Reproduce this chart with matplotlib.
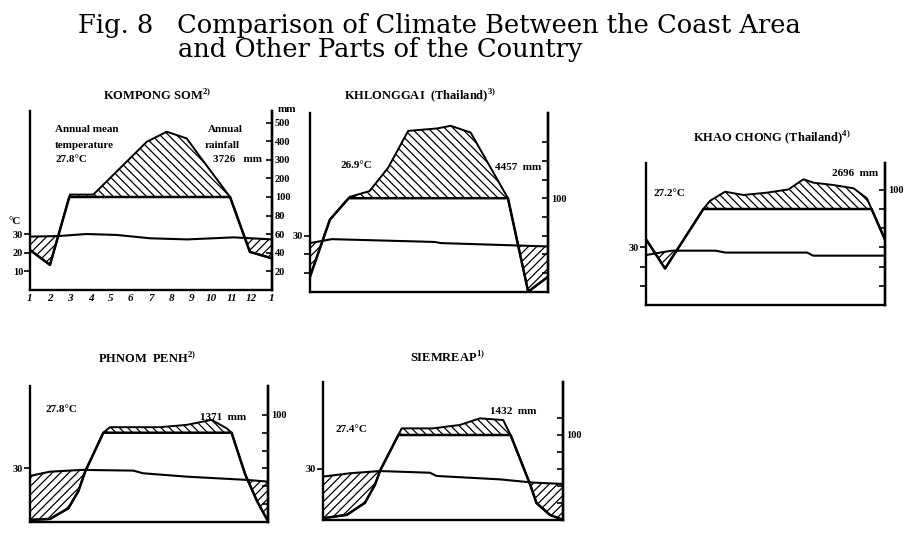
import numpy as np
import matplotlib
matplotlib.use("Agg")
import matplotlib.pyplot as plt

plt.rcParams['font.family'] = ['Liberation Serif', 'DejaVu Serif']
plt.rcParams['mathtext.fontset'] = 'custom'
plt.rcParams['mathtext.rm'] = 'Liberation Serif'
plt.rcParams['mathtext.bf'] = 'Liberation Serif:bold'
plt.rcParams['hatch.linewidth'] = 0.9

W, H = 905, 533

# ---- values: x = month position (0 = start of Jan, 12 = end of Dec)
month_labels = ['1', '2', '3', '4', '5', '6', '7', '8', '9', '10', '11', '12', '1']

# Kompong Som
ks_temp_x = [0, 1.4, 2.8, 4.3, 5.95, 7.8, 10.1, 12.0]
ks_temp = [28.7, 29.0, 30.1, 29.6, 27.8, 27.2, 28.3, 27.2]
ks_prec_x = [0, 0.99, 1.98, 3.14, 5.79, 6.78, 7.77, 8.43, 9.92, 10.9, 12.0]
ks_prec = [43, 27, 113, 113, 397, 451, 415, 317, 100, 41, 34]

# Khlonggai
kl_temp_x = [0, 1.1, 6.3, 6.6, 12.0]
kl_temp = [26.0, 28.1, 26.6, 26.0, 24.2]
kl_prec_x = [0, 1.0, 2.0, 3.0, 3.94, 4.95, 6.4, 7.1, 8.1, 9.98, 11.0, 12.0]
kl_prec = [16, 77, 107, 138, 263, 460, 473, 487, 451, 100, 0, 16]

# Khao Chong
kc_temp_x = [0, 1.3, 3.5, 4.0, 8.1, 8.4, 12.0]
kc_temp = [26.0, 28.3, 28.3, 27.3, 27.3, 25.7, 25.7]
kc_prec_x = [0, 0.97, 2.89, 3.23, 3.98, 4.9, 6.07, 7.16, 7.91, 8.41, 9.41, 10.42, 11.09, 12.0]
kc_prec = [69, 38, 100, 143, 190, 173, 185, 202, 255, 237, 225, 208, 156, 68]

# Phnom Penh
pp_temp_x = [0, 1.0, 2.6, 5.2, 5.7, 7.9, 10.9, 12.0]
pp_temp = [25.7, 28.1, 29.1, 28.7, 27.2, 25.3, 23.5, 22.5]
pp_prec_x = [0, 1.0, 1.93, 2.43, 2.77, 3.69, 4.03, 6.54, 7.89, 9.14, 9.9, 10.15, 10.82, 11.41, 12.0]
pp_prec = [2, 3, 15, 34, 56, 100, 131, 131, 144, 172, 125, 100, 54, 24, 0]

# Siemreap
sr_temp_x = [0, 1.36, 2.86, 5.35, 5.68, 8.84, 10.5, 12.0]
sr_temp = [25.5, 27.5, 28.8, 27.8, 25.9, 23.9, 22.0, 21.2]
sr_prec_x = [0, 1.2, 2.1, 2.6, 2.86, 3.94, 5.5, 6.84, 7.84, 9.0, 9.37, 10.33, 10.66, 11.33, 12.0]
sr_prec = [2, 6, 20, 41, 58, 139, 139, 159, 198, 188, 100, 43, 20, 6, 0]


def mm_to_units(p):
    # Walter-Lieth scale: 20 mm = 10 C below 100 mm, 100 mm = 10 C above
    p = np.asarray(p, dtype=float)
    return np.where(p <= 100, p / 2.0, 50 + (p - 100) / 10.0)


def fx(x):
    return x / W


def fy(y):
    return 1 - y / H


fig = plt.figure(figsize=(W / 100, H / 100), dpi=100)
fig.patch.set_facecolor('white')


def climate_panel(box, temp_x, temp, prec_x, prec, rticks, rlabels, lticks, llabels):
    xl, xr, yb, ppu, top = box
    ax = fig.add_axes([fx(xl), fy(yb), (xr - xl) / W, top * ppu / H])
    ax.set_xlim(0, 12)
    ax.set_ylim(0, top)
    ax.patch.set_alpha(0)

    xf = np.linspace(0, 12, 2401)
    pu = np.interp(xf, prec_x, mm_to_units(prec))
    tu = np.interp(xf, temp_x, temp)

    # humid season above 100 mm
    ax.fill_between(xf, 50, pu, where=pu > 50, interpolate=True,
                    facecolor='none', edgecolor='black', hatch='\\\\\\\\', lw=0)
    # dry season (rain curve below temperature)
    ax.fill_between(xf, pu, tu, where=pu < tu, interpolate=True,
                    facecolor='none', edgecolor='black', hatch='////', lw=0)

    ax.plot(prec_x, mm_to_units(prec), color='black', lw=1.4)
    ax.plot(xf, np.minimum(pu, 50), color='black', lw=1.8)
    ax.plot(temp_x, temp, color='black', lw=1.5)

    ax.spines['top'].set_visible(False)
    for s in ['left', 'right', 'bottom']:
        ax.spines[s].set_linewidth(1.7)
    ax.set_xticks([])
    ax.yaxis.set_ticks_position('left')
    ax.set_yticks(lticks, llabels)
    ax.tick_params(axis='y', direction='out', length=4, width=1.2, pad=1,
                   labelsize=7.5)
    for t in ax.get_yticklabels():
        t.set_fontweight('bold')

    sec = ax.secondary_yaxis('right')
    sec.set_yticks(rticks, rlabels)
    sec.tick_params(direction='in', length=4, width=1.2, pad=2, labelsize=7.5)
    sec.spines['right'].set_linewidth(1.7)
    for t in sec.get_yticklabels():
        t.set_fontweight('bold')
    return ax


# Kompong Som
ax1 = climate_panel((30, 272, 290, 1.86, 96.5), ks_temp_x, ks_temp, ks_prec_x, ks_prec,
                    [10, 20, 30, 40, 50, 60, 70, 80, 90],
                    ['20', '40', '60', '80', '100', '200', '300', '400', '500'],
                    [10, 20, 30], ['10', '20', '30'])
ax1.set_xticks(np.arange(13), month_labels)
ax1.tick_params(axis='x', length=0, pad=3, labelsize=8)
for t in ax1.get_xticklabels():
    t.set_fontstyle('italic')
    t.set_fontweight('bold')

# Khlonggai
climate_panel((310, 548, 291.7, 1.87, 95.5), kl_temp_x, kl_temp, kl_prec_x, kl_prec,
              [10, 20, 30, 40, 50, 60, 70, 80],
              ['', '', '', '', '100', '', '', ''],
              [10, 20, 30], ['', '', '30'])

# Khao Chong
climate_panel((645.7, 885, 305, 1.92, 74), kc_temp_x, kc_temp, kc_prec_x, kc_prec,
              [10, 20, 30, 40, 50, 60],
              ['', '', '', '', '', '100'],
              [10, 20, 30], ['', '', '30'])

# Phnom Penh
climate_panel((30, 268.3, 521.7, 1.78, 76), pp_temp_x, pp_temp, pp_prec_x, pp_prec,
              [10, 20, 30, 40, 50, 60],
              ['', '', '', '', '', '100'],
              [30], ['30'])

# Siemreap
climate_panel((322.7, 563.3, 520, 1.70, 81), sr_temp_x, sr_temp, sr_prec_x, sr_prec,
              [10, 20, 30, 40, 50, 60],
              ['', '', '', '', '100', ''],
              [30], ['30'])

# ---- texts
small = dict(fontsize=8, fontweight='bold', va='center')
ttl = dict(fontsize=9, fontweight='bold', va='center', ha='center')

fig.text(fx(78), fy(33), 'Fig. 8', family='DejaVu Serif', fontsize=18.5, va='baseline')
fig.text(fx(177), fy(33), 'Comparison of Climate Between the Coast Area',
         family='DejaVu Serif', fontsize=18.5, va='baseline')
fig.text(fx(178), fy(57), 'and Other Parts of the Country',
         family='DejaVu Serif', fontsize=18.5, va='baseline')

fig.text(fx(157), fy(95), r'KOMPONG SOM$^{\mathbf{2)}}$', **ttl)
fig.text(fx(420), fy(95), r'KHLONGGAI  (Thailand)$^{\mathbf{3)}}$', **ttl)
fig.text(fx(772), fy(137), r'KHAO CHONG (Thailand)$^{\mathbf{4)}}$', **ttl)
fig.text(fx(147), fy(358), r'PHNOM  PENH$^{\mathbf{2)}}$', **ttl)
fig.text(fx(447), fy(357), r'SIEMREAP$^{\mathbf{1)}}$', **ttl)

fig.text(fx(55), fy(130), 'Annual mean', **small)
fig.text(fx(55), fy(145), 'temperature', **small)
fig.text(fx(55), fy(160), '27.8°C', **small)
fig.text(fx(208), fy(130), 'Annual', **small)
fig.text(fx(205), fy(145), 'rainfall', **small)
fig.text(fx(213), fy(160), '3726   mm', **small)
fig.text(fx(278), fy(110), 'mm', **small)
fig.text(fx(8), fy(222), '°C', **small)

fig.text(fx(340), fy(165), '26.9°C', **small)
fig.text(fx(495), fy(168), '4457  mm', **small)
fig.text(fx(653), fy(193), '27.2°C', **small)
fig.text(fx(832), fy(173), '2696  mm', **small)
fig.text(fx(45), fy(410), '27.8°C', **small)
fig.text(fx(200), fy(417), '1371  mm', **small)
fig.text(fx(335), fy(430), '27.4°C', **small)
fig.text(fx(490), fy(412), '1432  mm', **small)

fig.savefig('out.png', dpi=100, facecolor='white')
